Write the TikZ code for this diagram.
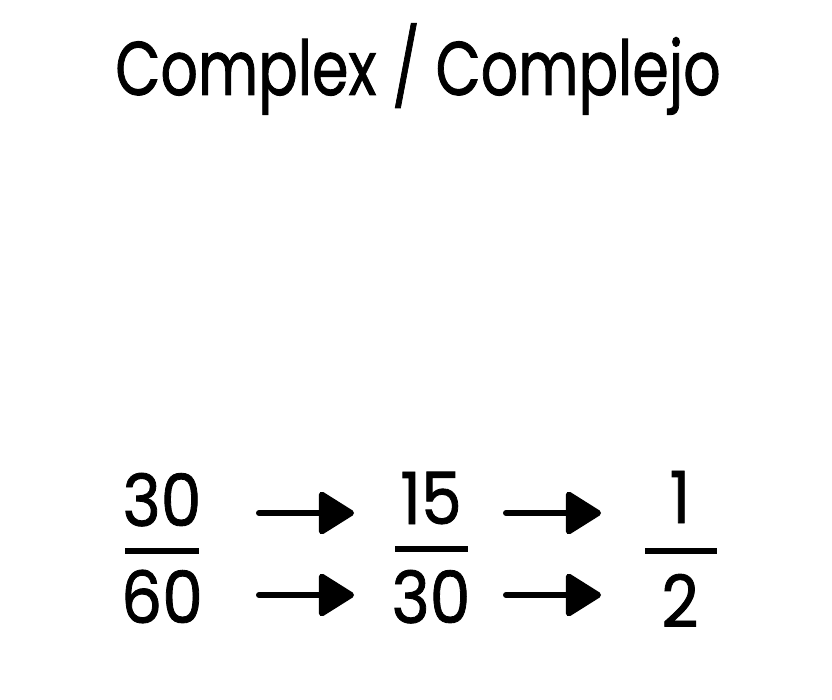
\documentclass[tikz,border=0pt]{standalone}
\usepackage{fontspec}
\setmainfont{Poppins}[FakeBold=1.2]
\usetikzlibrary{arrows.meta}
\begin{document}
\begin{tikzpicture}[x=1pt,y=-1pt,
 txt/.style={inner sep=0pt, anchor=base, font=\fontsize{72}{80}\selectfont},
 ttl/.style={inner sep=0pt, anchor=base, font=\fontsize{76}{80}\selectfont},
 bar/.style={line width=6pt},
 arr/.style={line width=6pt, line cap=round, -{Triangle[length=38pt,width=46pt,round]}}]
\useasboundingbox (0,0) rectangle (832,700);
\node[ttl] (title) at (418,95) {\scalebox{0.77}[1]{Complex / Complejo}};
% fractions
\node[txt] (n1) at (162,526) {\scalebox{0.9}[1]{30}};
\node[txt] (d1) at (162,623) {\scalebox{0.9}[1]{60}};
\node[txt] (n2) at (431,524) {\scalebox{0.9}[1]{15}};
\node[txt] (d2) at (431,623) {\scalebox{0.9}[1]{30}};
\node[txt] (n3) at (680,523) {\scalebox{0.9}[1]{1}};
\node[txt] (d3) at (680,627) {\scalebox{0.9}[1]{2}};
\coordinate (b1l) at (125,551); \coordinate (b1r) at (199,551);
\coordinate (b2l) at (395,549); \coordinate (b2r) at (468,549);
\coordinate (b3l) at (645,551); \coordinate (b3r) at (717,551);
\draw[bar] (b1l) -- (b1r);
\draw[bar] (b2l) -- (b2r);
\draw[bar] (b3l) -- (b3r);
% arrows
\coordinate (a1s) at (259,513); \coordinate (a1e) at (354,513);
\coordinate (a2s) at (259,595); \coordinate (a2e) at (354,595);
\coordinate (a3s) at (506,513); \coordinate (a3e) at (601,513);
\coordinate (a4s) at (506,595); \coordinate (a4e) at (601,595);
\draw[arr] (a1s) -- (a1e);
\draw[arr] (a2s) -- (a2e);
\draw[arr] (a3s) -- (a3e);
\draw[arr] (a4s) -- (a4e);
\end{tikzpicture}
\end{document}
